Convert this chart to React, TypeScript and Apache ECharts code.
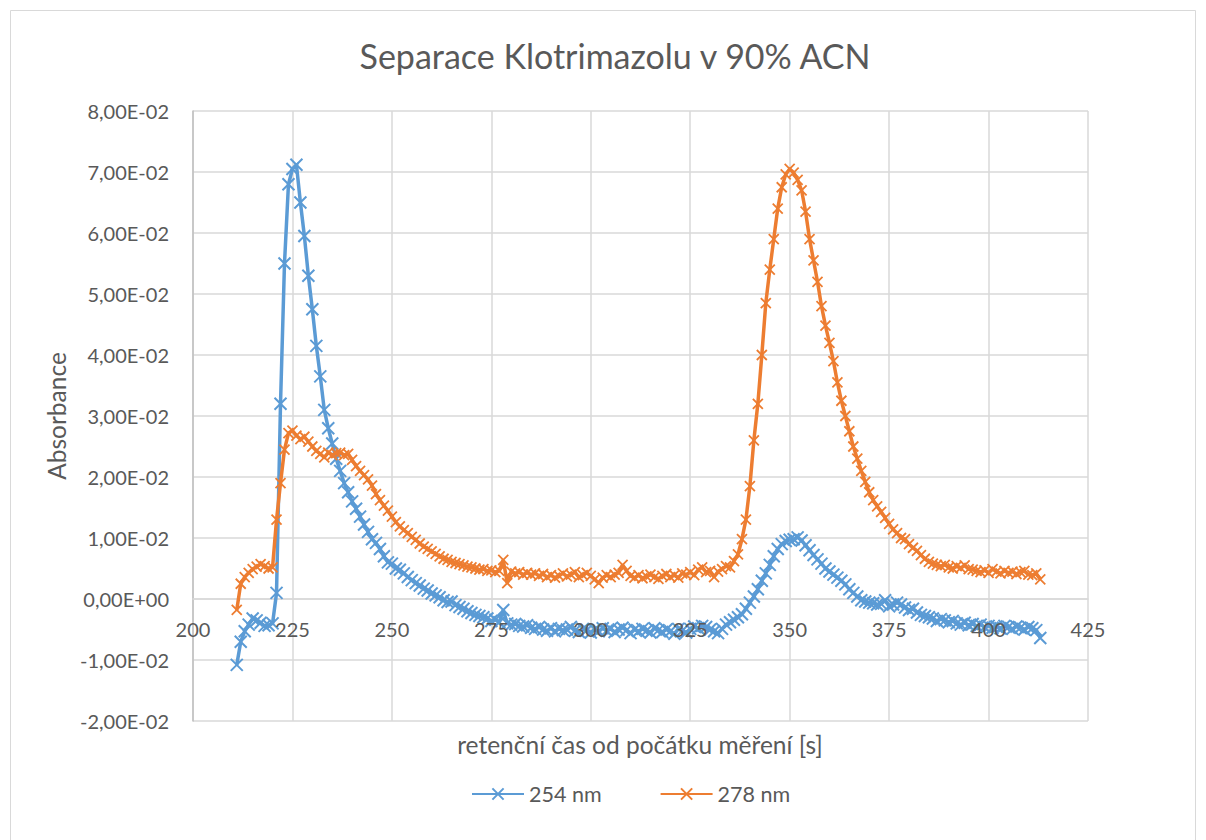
import React, { useEffect, useRef } from "react";
import * as echarts from "echarts";

// Sampling grid of the detector (retention time, s)
const T_START = 211;
const T_STEP = 1;

// Absorbance values in units of 1e-3
const abs254 = [
  -10.8, -7.0, -5.3, -4.2, -3.2, -3.5, -3.9, -4.4, -4.3, -4.0,
  1.0, 32, 55, 68, 70.5, 71.2, 65, 59.5, 53, 47.5,
  41.5, 36.5, 31, 28, 25.5, 23, 21, 19, 17.5, 16,
  14.8, 13.5, 12.2, 11, 9.8, 9.2, 8.2, 7, 6, 5.8,
  5, 4.8, 4.2, 3.6, 3.1, 2.6, 2.2, 1.7, 1.4, 0.9,
  0.6, 0.3, -0.2, -0.5, -0.4, -1.0, -1.3, -1.6, -2.0, -2.3,
  -2.6, -2.8, -3.0, -3.2, -3.6, -3.4, -3.8, -1.8, -4.0, -4.2,
  -4.1, -4.4, -4.5, -4.3, -4.7, -4.9, -4.6, -5.0, -5.2, -4.8,
  -5.3, -4.9, -5.1, -5.0, -4.6, -5.2, -5.4, -4.9, -5.1, -5.5,
  -5.0, -5.3, -4.8, -5.2, -4.9, -5.4, -5.0, -4.7, -5.1, -5.6,
  -5.0, -5.3, -4.9, -5.2, -5.5, -4.8, -5.1, -5.4, -5.0, -5.3,
  -5.7, -4.9, -5.2, -5.5, -4.9, -4.5, -4.8, -4.4, -4.6, -5.0,
  -5.3, -5.6, -4.9, -4.2, -3.8, -3.4, -3.0, -2.5, -1.6, -0.6,
  0.4, 1.6, 3.0, 4.2, 5.6, 7.0, 8.2, 9.0, 9.5, 9.7,
  9.8, 10.1, 9.6, 8.8, 8.0, 7.2, 6.5, 5.8, 5.0, 4.5,
  4.0, 3.5, 3.0, 2.4, 1.6, 1.0, 0.4, -0.2, -0.4, -0.6,
  -0.7, -0.9, -0.8, -0.2, -1.2, -0.9, -0.6, -0.9, -1.4, -1.8,
  -1.6, -2.2, -2.6, -2.8, -3.0, -3.2, -3.6, -3.3, -3.5, -3.8,
  -3.6, -4.0, -4.2, -3.9, -4.3, -4.1, -4.4, -4.2, -4.6, -4.4,
  -4.7, -4.5, -4.8, -4.4, -4.6, -4.9, -4.5, -4.7, -5.0, -4.6,
  -4.8, -5.1, -6.4,
];

const abs278 = [
  -1.8, 2.5, 3.6, 4.3, 4.9, 5.3, 5.7, 5.4, 5.0, 5.2,
  13, 19, 24.5, 27.2, 27.6, 26.8, 26.2, 26.6, 25.8, 25.0,
  24.3, 23.8, 23.2, 24.0, 23.6, 23.9, 24.0, 23.6, 23.8, 22.8,
  21.8, 21.0, 20.3, 19.6, 18.6, 17.2, 16.2, 15.3, 14.5, 13.5,
  12.6, 11.9, 11.3, 10.8, 10.2, 9.7, 9.1, 8.6, 8.2, 7.8,
  7.4, 7.0, 6.6, 6.4, 6.1, 5.9, 5.7, 5.5, 5.3, 5.2,
  5.0, 4.8, 4.9, 4.6, 4.7, 4.4, 4.6, 6.4, 2.6, 4.5,
  4.2, 4.4, 4.0, 4.3, 4.0, 4.2, 3.8, 4.1, 3.6, 3.9,
  3.5, 3.8, 4.2, 3.7, 4.0, 4.4, 3.6, 3.9, 4.3, 3.8,
  3.2, 2.6, 3.5, 3.9, 3.6, 4.0, 4.3, 5.6, 4.6, 3.8,
  3.5, 3.9, 3.4, 3.7, 4.0, 3.6, 3.3, 3.8, 4.1, 3.6,
  3.9, 3.5, 4.2, 4.0, 4.4, 3.9, 4.8, 5.2, 4.4, 4.6,
  3.6, 4.5, 4.9, 5.4, 5.2, 6.2, 7.3, 9.8, 13.0, 18.5,
  26, 32, 40, 48.5, 54, 59, 64, 67.5, 69.6, 70.5,
  69.9, 68.7, 67, 63.5, 59, 55.5, 52, 48, 44.8, 42.0,
  39, 35.5, 32.5, 30, 27.5, 25, 23, 21, 19.2, 17.5,
  16.2, 15.2, 14.3, 13.3, 12.3, 11.4, 10.8, 10.0, 9.8, 9.0,
  8.4, 7.9, 7.2, 6.6, 6.1, 5.8, 5.6, 5.4, 5.6, 5.2,
  5.0, 5.4, 5.1, 5.5, 4.9, 4.8, 4.6, 4.4, 4.7, 4.3,
  4.9, 4.5, 4.2, 4.6, 4.3, 4.5, 4.1, 4.4, 4.6, 4.0,
  3.9, 4.2, 3.2,
];

const SERIES_NAMES = ["254 nm", "278 nm"];
const X_MIN = 200;
const X_MAX = 425;
const X_STEP = 25;
const Y_MIN = -0.02;
const Y_MAX = 0.08;
const Y_STEP = 0.01;

const TITLE = "Separace Klotrimazolu v 90% ACN";
const X_NAME = "retenční čas od počátku měření [s]";
const Y_NAME = "Absorbance";

const BLUE = "#5B9BD5";
const ORANGE = "#ED7D31";
const TEXT = "#595959";
const FONT = "Lato, 'Open Sans', sans-serif";
const CROSS = "path://M0,0L10,10M10,0L0,10";

// grid box in pixels
const GRID_LEFT = 193;
const GRID_TOP = 111;
const GRID_RIGHT = 118;
const GRID_BOTTOM = 119;
const GRID_H = 840 - GRID_TOP - GRID_BOTTOM;

function toPairs(vals: number[]) {
  return vals.map((v, i) => [T_START + i * T_STEP, v / 1000]);
}

function sci(v: number): string {
  if (Math.abs(v) < 1e-12) return "0,00E+00";
  let e = Math.floor(Math.log10(Math.abs(v)));
  let m = v / Math.pow(10, e);
  if (Math.abs(Math.round(m * 100) / 100) >= 10) {
    e += 1;
    m = v / Math.pow(10, e);
  }
  const ms = m.toFixed(2).replace(".", ",");
  const es = (e < 0 ? "-" : "+") + String(Math.abs(e)).padStart(2, "0");
  return ms + "E" + es;
}

export default function App() {
  const ref = useRef<HTMLDivElement>(null);
  useEffect(() => {
    if (!ref.current) return;
    const chart = echarts.init(ref.current, undefined, { renderer: "svg" });
    // distance from the bottom of the grid to the zero line
    const zeroOffset = (GRID_H * (0 - Y_MIN)) / (Y_MAX - Y_MIN);
    chart.setOption({
      animation: false,
      backgroundColor: "#ffffff",
      textStyle: { fontFamily: FONT },
      title: {
        text: TITLE,
        left: 610,
        textAlign: "center",
        top: 33,
        textStyle: { fontFamily: FONT, fontSize: 34, fontWeight: "normal", color: TEXT },
      },
      legend: {
        left: 466,
        top: 778,
        itemWidth: 52,
        itemHeight: 14,
        itemGap: 58,
        textStyle: { fontFamily: FONT, fontSize: 21.5, color: TEXT },
        data: SERIES_NAMES,
      },
      grid: { left: GRID_LEFT, right: GRID_RIGHT, top: GRID_TOP, bottom: GRID_BOTTOM, containLabel: false },
      xAxis: [
        {
          type: "value",
          min: X_MIN,
          max: X_MAX,
          interval: X_STEP,
          position: "bottom",
          offset: -zeroOffset,
          axisLine: { show: true, onZero: false, lineStyle: { color: "#D9D9D9", width: 1.5 } },
          axisTick: { show: false },
          axisLabel: { show: false },
          splitLine: { show: true, lineStyle: { color: "#D9D9D9", width: 1.5 } },
        },
        {
          type: "value",
          min: X_MIN,
          max: X_MAX,
          interval: X_STEP,
          position: "bottom",
          offset: -zeroOffset,
          z: 10,
          axisLine: { show: false, onZero: false },
          axisTick: { show: false },
          axisLabel: { fontFamily: FONT, fontSize: 20, color: TEXT, margin: 20 },
          splitLine: { show: false },
        },
      ],
      yAxis: {
        type: "value",
        min: Y_MIN,
        max: Y_MAX,
        interval: Y_STEP,
        axisLine: { show: true, onZero: false, lineStyle: { color: "#BFBFBF", width: 1.5 } },
        axisTick: { show: false },
        axisLabel: { fontFamily: FONT, fontSize: 20, color: TEXT, margin: 24, formatter: sci },
        splitLine: { show: true, lineStyle: { color: "#D9D9D9", width: 1.5 } },
      },
      graphic: [
        {
          type: "rect",
          shape: { x: 10.5, y: 10.5, width: 1185, height: 850 },
          style: { fill: "none", stroke: "#D9D9D9", lineWidth: 1 },
          silent: true,
        },
        {
          type: "text",
          x: 56,
          y: 416,
          rotation: Math.PI / 2,
          style: {
            text: Y_NAME,
            fontFamily: FONT,
            fontSize: 24.5,
            fill: TEXT,
            textAlign: "center",
            textVerticalAlign: "middle",
          },
        },
        {
          type: "text",
          x: 640,
          y: 744,
          style: {
            text: X_NAME,
            fontFamily: FONT,
            fontSize: 24.5,
            fill: TEXT,
            textAlign: "center",
            textVerticalAlign: "middle",
          },
        },
      ],
      series: [
        {
          name: SERIES_NAMES[0],
          type: "line",
          xAxisIndex: 0,
          data: toPairs(abs254),
          symbol: CROSS,
          symbolSize: 12,
          showAllSymbol: true,
          lineStyle: { color: BLUE, width: 3.5 },
          itemStyle: { color: BLUE, borderColor: BLUE, borderWidth: 2 },
          z: 2,
        },
        {
          name: SERIES_NAMES[1],
          type: "line",
          xAxisIndex: 0,
          data: toPairs(abs278),
          symbol: CROSS,
          symbolSize: 10,
          showAllSymbol: true,
          lineStyle: { color: ORANGE, width: 3.5 },
          itemStyle: { color: ORANGE, borderColor: ORANGE, borderWidth: 1.8 },
          z: 3,
        },
      ],
    });
    return () => chart.dispose();
  }, []);
  return (
    <div
      ref={ref}
      style={{ position: "fixed", left: 0, top: 0, width: 1206, height: 840 }}
    />
  );
}
